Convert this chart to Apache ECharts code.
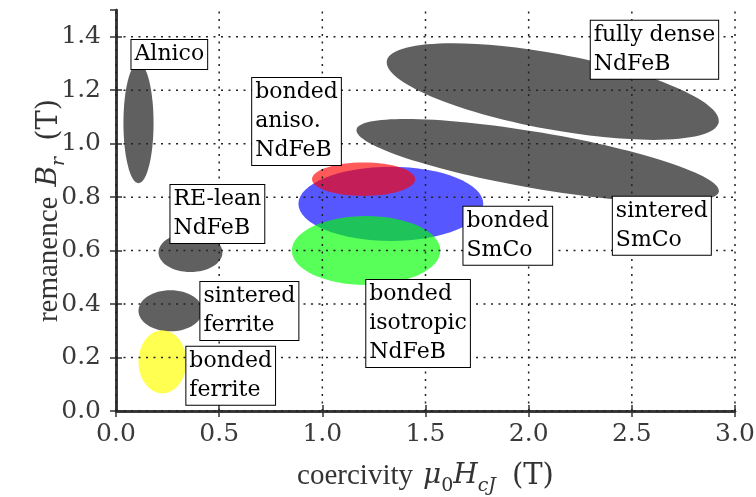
<!DOCTYPE html>
<html>
<head>
<meta charset="utf-8">
<script src="https://cdn.jsdelivr.net/npm/echarts@6/dist/echarts.min.js"></script>
<style>html,body{margin:0;padding:0;background:#fff;}#c{width:756px;height:497px;}</style>
</head>
<body>
<div id="c"></div>
<script>
// ---- data ----
const materials   = ['Alnico', 'RE-lean NdFeB', 'sintered ferrite', 'bonded ferrite', 'fully dense NdFeB', 'sintered SmCo', 'bonded SmCo', 'bonded aniso. NdFeB', 'bonded isotropic NdFeB'];
const coercivity  = [0.109, 0.361, 0.264, 0.225, 2.117, 2.044, 1.332, 1.200, 1.212];   // centre, T
const remanence   = [1.077, 0.593, 0.375, 0.184, 1.195, 0.937, 0.775, 0.867, 0.600];   // centre, T
const hcjSpread   = [0.073, 0.155, 0.155, 0.116, 0.818, 0.891, 0.448, 0.250, 0.360];   // half range, T
const brSpread    = [0.225, 0.073, 0.077, 0.118, 0.142, 0.105, 0.139, 0.0625, 0.129];  // half range, T
const tiltDeg     = [0, 0, 0, 0, -10.5, -9.7, 0, 0, 0];

const labelText   = ['Alnico', 'RE-lean\nNdFeB', 'sintered\nferrite', 'bonded\nferrite', 'fully dense\nNdFeB', 'sintered\nSmCo', 'bonded\nSmCo', 'bonded\naniso.\nNdFeB', 'bonded\nisotropic\nNdFeB'];
const labelX      = [0.075, 0.264, 0.409, 0.341, 2.301, 2.408, 1.684, 0.660, 1.213];
const labelY      = [1.388, 0.845, 0.483, 0.240, 1.460, 0.801, 0.764, 1.246, 0.490];

const xTicks = [0, 0.5, 1.0, 1.5, 2.0, 2.5, 3.0];
const yTicks = [0, 0.2, 0.4, 0.6, 0.8, 1.0, 1.2, 1.4];
const xRange = [0, 3.0];
const yRange = [0, 1.5];

// ---- styles ----
const fillOf = {
  'Alnico': '#606060', 'RE-lean NdFeB': '#606060', 'sintered ferrite': '#606060',
  'fully dense NdFeB': '#606060', 'sintered SmCo': '#606060',
  'bonded ferrite': 'rgba(255,255,0,0.68)',
  'bonded SmCo': 'rgba(0,0,255,0.66)',
  'bonded aniso. NdFeB': 'rgba(255,0,0,0.65)',
  'bonded isotropic NdFeB': 'rgba(0,255,0,0.65)'
};
const drawOrder = [0, 1, 2, 4, 5, 6, 7, 8, 3];

const ellipseData = drawOrder.map(i => [coercivity[i], remanence[i], hcjSpread[i], brSpread[i], tiltDeg[i], i]);
const labelData = materials.map((m, i) => [labelX[i], labelY[i], i]);

const frame = { color: '#333', width: 2.5 };
const tickStyle = { inside: true, length: 6, lineStyle: { color: '#333', width: 1.5 } };
const gridLine = { stroke: '#222', lineWidth: 1.5, lineDash: [2, 5.5] };
const tickFont = { fontFamily: 'DejaVu Serif', fontSize: 25, color: '#3a3a3a' };
const nameRich = {
  n: { fontFamily: 'Liberation Serif', fontSize: 29, color: '#333', lineHeight: 40 },
  m: { fontFamily: 'DejaVu Serif', fontSize: 29, color: '#333', lineHeight: 40 },
  i: { fontFamily: 'DejaVu Serif', fontStyle: 'italic', fontSize: 28, color: '#333', lineHeight: 40 },
  s: { fontFamily: 'DejaVu Serif', fontSize: 19, color: '#333', lineHeight: 24, verticalAlign: 'bottom' },
  si: { fontFamily: 'DejaVu Serif', fontStyle: 'italic', fontSize: 19, color: '#333', lineHeight: 24, verticalAlign: 'bottom' },
  g1: { width: 10, lineHeight: 40 },
  g2: { width: 16, lineHeight: 40 }
};

function axisBase(extent, ticks) {
  return { type: 'value', min: extent[0], max: extent[1], interval: ticks[1] - ticks[0], zlevel: 1,
           nameMoveOverlap: false,
           axisLine: { show: true, lineStyle: frame }, axisTick: tickStyle, splitLine: { show: false } };
}

const chart = echarts.init(document.getElementById('c'), null, { renderer: 'canvas' });
chart.setOption({
  animation: false,
  backgroundColor: '#fff',
  grid: { left: 116, right: 21, top: 10, bottom: 86, outerBoundsMode: 'none', containLabel: false },
  xAxis: [Object.assign(axisBase(xRange, xTicks), {
    position: 'bottom',
    axisLabel: Object.assign({ margin: 11, formatter: v => v.toFixed(1) }, tickFont),
    name: '{n|coercivity}{g1|}{i|μ}{s|0}{i|H}{si|cJ}{g2|}{m|(T)}',
    nameLocation: 'middle', nameGap: 45,
    nameTextStyle: { rich: nameRich }
  }), Object.assign(axisBase(xRange, xTicks), { position: 'top', axisLabel: { show: false } })],
  yAxis: [Object.assign(axisBase(yRange, yTicks), {
    position: 'left',
    axisLabel: Object.assign({ margin: 15, showMaxLabel: false, formatter: v => v.toFixed(1) }, tickFont),
    name: '{n|remanence}{g1|}{i|B}{si|r}{g2|}{m|(T)}',
    nameLocation: 'middle', nameGap: 47,
    nameTextStyle: { rich: nameRich }
  }), Object.assign(axisBase(yRange, yTicks), { position: 'right', axisLabel: { show: false } })],
  series: [{
    type: 'custom', name: 'ranges', zlevel: 0, xAxisIndex: 0, yAxisIndex: 0,
    data: ellipseData,
    renderItem: function (params, api) {
      const c = api.coord([api.value(0), api.value(1)]);
      const s = api.size([api.value(2), api.value(3)]);
      const idx = api.value(5);
      return {
        type: 'ellipse',
        x: c[0], y: c[1],
        rotation: api.value(4) * Math.PI / 180,
        shape: { cx: 0, cy: 0, rx: s[0], ry: s[1] },
        style: { fill: fillOf[materials[idx]] }
      };
    }
  }, {
    type: 'custom', name: 'xgrid', zlevel: 1, xAxisIndex: 0, yAxisIndex: 0, silent: true,
    data: xTicks.map(v => [v, yRange[0]]),
    renderItem: function (params, api) {
      const a = api.coord([api.value(0), yRange[0]]);
      const b = api.coord([api.value(0), yRange[1]]);
      return { type: 'line', shape: { x1: a[0], y1: a[1], x2: b[0], y2: b[1] }, style: gridLine };
    }
  }, {
    type: 'custom', name: 'ygrid', zlevel: 1, xAxisIndex: 0, yAxisIndex: 0, silent: true,
    data: yTicks.map(v => [xRange[0], v]),
    renderItem: function (params, api) {
      const a = api.coord([xRange[0], api.value(1)]);
      const b = api.coord([xRange[1], api.value(1)]);
      return { type: 'line', shape: { x1: a[0], y1: a[1], x2: b[0], y2: b[1] }, style: gridLine };
    }
  }, {
    type: 'custom', name: 'labels', zlevel: 2, xAxisIndex: 0, yAxisIndex: 0,
    data: labelData,
    renderItem: function (params, api) {
      const p = api.coord([api.value(0), api.value(1)]);
      const idx = api.value(2);
      return {
        type: 'text',
        x: p[0], y: p[1],
        style: {
          text: labelText[idx],
          fontFamily: 'DejaVu Serif', fontSize: 22, lineHeight: 29,
          fill: '#000', align: 'left', verticalAlign: 'top',
          backgroundColor: '#fff', borderColor: '#000', borderWidth: 1,
          padding: [0, 3, 0, 3]
        }
      };
    }
  }]
});
</script>
</body>
</html>
